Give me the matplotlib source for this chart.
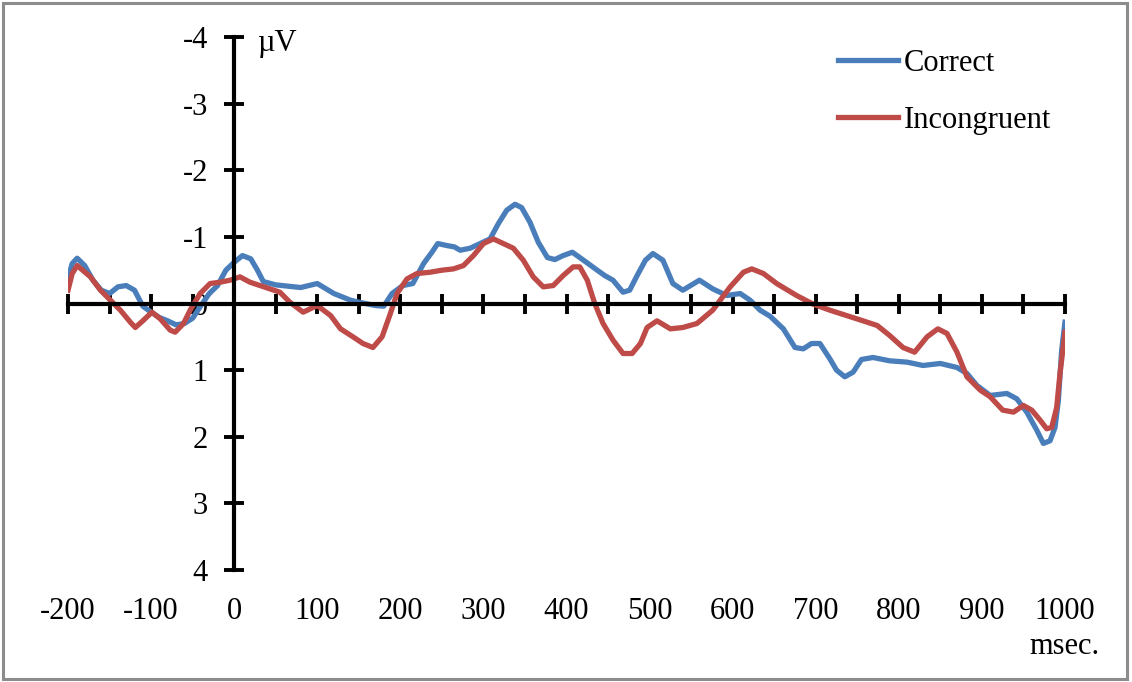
import matplotlib
matplotlib.use('Agg')
import matplotlib.pyplot as plt
import matplotlib.transforms as mtransforms
from matplotlib.patches import Rectangle
import numpy as np

plt.rcParams['font.family'] = ['Liberation Serif', 'DejaVu Serif']

# Correct condition (ms, uV)
correct_t = [-200, -195, -189, -180, -170, -160, -150, -140, -130, -120, -110, -100,
             -90, -80, -70, -60, -50, -40, -30, -20, -10, 0, 10, 20, 28, 35, 50, 65,
             80, 100, 120, 140, 150, 170, 180, 190, 203, 215, 228, 238, 245, 256,
             265, 272, 284, 296, 308, 318, 328, 338, 346, 356, 366, 377, 386, 396,
             407, 416, 426, 437, 446, 456, 468, 476, 485, 495, 504, 516, 528, 540,
             560, 576, 593, 609, 621, 633, 645, 661, 675, 685, 695, 705, 717, 725,
             735, 745, 755, 769, 789, 810, 829, 850, 870, 882, 894, 910, 930, 942,
             954, 966, 974, 982, 988, 992, 996, 1000]
correct_v = [-0.37, -0.6, -0.68, -0.57, -0.35, -0.2, -0.15, -0.25, -0.27, -0.2, 0.04, 0.13,
             0.21, 0.26, 0.32, 0.3, 0.22, 0.03, -0.15, -0.27, -0.5, -0.62, -0.72, -0.67,
             -0.5, -0.33, -0.28, -0.26, -0.24, -0.3, -0.15, -0.05, -0.02, 0.03, 0.04,
             -0.15, -0.27, -0.3, -0.6, -0.77, -0.9, -0.87, -0.85, -0.8, -0.83, -0.9,
             -0.97, -1.2, -1.4, -1.49, -1.44, -1.22, -0.92, -0.69, -0.66, -0.72, -0.77,
             -0.69, -0.6, -0.5, -0.42, -0.35, -0.17, -0.2, -0.42, -0.65, -0.75, -0.65,
             -0.3, -0.2, -0.35, -0.22, -0.12, -0.15, -0.05, 0.1, 0.19, 0.38, 0.66, 0.68,
             0.6, 0.6, 0.83, 1.0, 1.1, 1.03, 0.84, 0.81, 0.86, 0.88, 0.93, 0.9, 0.96,
             1.05, 1.23, 1.38, 1.35, 1.43, 1.63, 1.9, 2.1, 2.06, 1.86, 1.46, 0.7, 0.28]

# Incongruent condition (ms, uV)
incong_t = [-200, -195, -189, -173, -161, -149, -137, -125, -119, -110, -99, -89, -77,
            -71, -61, -53, -41, -29, -17, -5, 7, 19, 31, 43, 55, 67, 83, 100, 116, 128,
            143, 155, 167, 178, 188, 196, 208, 220, 236, 250, 264, 276, 288, 300, 312,
            324, 336, 348, 360, 372, 384, 396, 408, 416, 425, 434, 444, 456, 468, 479,
            489, 497, 509, 525, 540, 557, 576, 597, 613, 623, 637, 653, 677, 697, 717,
            737, 757, 774, 789, 805, 819, 834, 847, 858, 870, 882, 898, 910, 925, 938,
            950, 960, 970, 978, 984, 990, 994, 1000]
incong_v = [-0.2, -0.45, -0.57, -0.4, -0.2, -0.05, 0.1, 0.28, 0.36, 0.26, 0.13, 0.23, 0.4,
            0.43, 0.3, 0.1, -0.15, -0.3, -0.32, -0.35, -0.4, -0.32, -0.27, -0.22, -0.17,
            -0.02, 0.13, 0.03, 0.18, 0.38, 0.5, 0.6, 0.66, 0.5, 0.15, -0.15, -0.37, -0.45,
            -0.47, -0.5, -0.52, -0.57, -0.72, -0.9, -0.97, -0.9, -0.83, -0.65, -0.4,
            -0.25, -0.27, -0.42, -0.55, -0.55, -0.35, 0.0, 0.3, 0.55, 0.75, 0.75, 0.6,
            0.36, 0.26, 0.38, 0.36, 0.3, 0.1, -0.25, -0.47, -0.52, -0.45, -0.3, -0.12,
            0.01, 0.1, 0.18, 0.26, 0.33, 0.48, 0.66, 0.73, 0.5, 0.38, 0.45, 0.73, 1.1,
            1.3, 1.4, 1.6, 1.63, 1.53, 1.6, 1.75, 1.88, 1.86, 1.56, 1.05, 0.43]

x_labels = [-200, -100, 0, 100, 200, 300, 400, 500, 600, 700, 800, 900, 1000]
y_ticks = [-4, -3, -2, -1, 0, 1, 2, 3, 4]

blue = '#4a7ebb'
red = '#be4b48'
fs = 22

fig = plt.figure(figsize=(11.32, 6.82), dpi=100)
ax = fig.add_axes([0.0601, 0.1642, 0.8807, 0.7815])

ax.plot(correct_t, correct_v, color=blue, lw=3.8, label='Correct', solid_joinstyle='round')
ax.plot(incong_t, incong_v, color=red, lw=3.8, label='Incongruent', solid_joinstyle='round')

ax.set_xlim(-200, 1000)
ax.set_ylim(4, -4)

for s in ['top', 'right']:
    ax.spines[s].set_visible(False)
ax.spines['left'].set_position(('data', 0))
ax.spines['bottom'].set_position(('data', 0))
ax.spines['left'].set_linewidth(3)
ax.spines['bottom'].set_linewidth(3)

ax.set_xticks(np.arange(-200, 1001, 50))
ax.set_xticklabels([])
ax.set_yticks(y_ticks)
ax.set_yticklabels([str(v) for v in y_ticks])
ax.tick_params(direction='inout', length=14, width=2.8, labelsize=fs)
ax.tick_params(axis='y', pad=12)

trans = mtransforms.blended_transform_factory(ax.transData, ax.transAxes)
for v in x_labels:
    ax.text(v, -0.078, str(v), transform=trans, ha='center', va='center', fontsize=fs)

fig.text(257 / 1132, 1 - 43 / 682, 'µV', ha='left', va='center', fontsize=fs)
fig.text(1100 / 1132, 1 - 646 / 682, 'msec.', ha='right', va='center', fontsize=fs)

ax.legend(loc='upper left', bbox_to_anchor=(838 / 1132, 1 - 49 / 682),
          bbox_transform=fig.transFigure, frameon=False, fontsize=fs,
          handlelength=1.95, handletextpad=0.2, labelspacing=0.92,
          borderpad=0, borderaxespad=0)

fig.patches.append(Rectangle((0.003, 0.005), 0.993, 0.99, transform=fig.transFigure,
                             fill=False, edgecolor='#8c8c8c', lw=2.2))

fig.savefig('out.png', dpi=100)
